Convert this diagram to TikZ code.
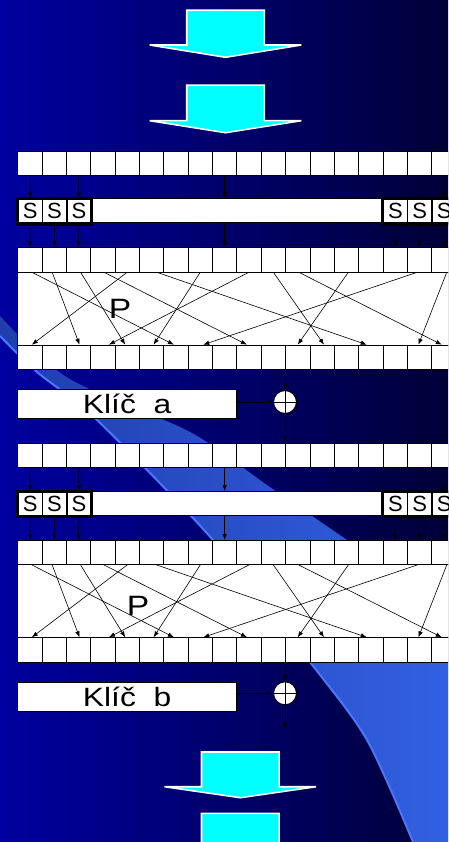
\documentclass[tikz,border=0pt]{standalone}
\usepackage{fontspec}
\usepackage{graphicx}
\setmainfont{Liberation Sans}
\usetikzlibrary{arrows.meta}

\definecolor{bgleft}{RGB}{0,0,160}
\definecolor{bgright}{RGB}{0,0,56}
\definecolor{bandleft}{RGB}{32,62,172}
\definecolor{bandright}{RGB}{50,96,226}
\definecolor{bandedge}{RGB}{70,120,255}
\definecolor{arrowfill}{RGB}{0,255,255}

\tikzset{
  cell/.style={draw=black, fill=white, line width=0.7pt, minimum width=24.35pt, minimum height=24.2pt, inner sep=0pt, anchor=north west},
  sbox/.style={cell, line width=1.5pt, font=\fontsize{22}{22}\selectfont},
  longbox/.style={draw=black, fill=white, line width=0.7pt, inner sep=0pt, anchor=north west},
  keybox/.style={longbox, minimum width=219pt, minimum height=29.6pt, font=\fontsize{26.5}{26.5}\selectfont},
  xorgate/.style={circle, draw=black, fill=white, line width=1pt, minimum size=23pt, inner sep=0pt,
    path picture={\draw[line width=0.8pt] (path picture bounding box.north) -- (path picture bounding box.south)
      (path picture bounding box.west) -- (path picture bounding box.east);}},
  wire/.style={-{Latex[length=6pt,width=4.5pt]}, line width=0.6pt},
  bigarrow/.style={draw=white, fill=arrowfill, line width=1.6pt},
  plabel/.style={font=\fontsize{28}{28}\selectfont, inner sep=0pt}
}

% wide lettering as on the slide
\newcommand{\wide}[1]{\scalebox{1.2}[1]{#1}}
% row of cells: name, top y
\newcommand{\cellrow}[2]{%
  \foreach \i in {0,...,18}
    \node[cell] (#1-\i) at ({17.3+24.35*\i},#2) {};
}
% S-box row: name, top y
\newcommand{\srow}[2]{%
  \node[longbox, minimum width=290pt, minimum height=24.2pt] (#1-m) at (91.3,#2) {};
  \foreach \i in {0,1,2} {
    \node[sbox] (#1-l\i) at ({17.3+24.35*\i},#2) {S};
    \node[sbox] (#1-r\i) at ({382.5+24.35*\i},#2) {S};
  }
  \draw[line width=3pt] (#1-l0.north west) rectangle (#1-l2.south east);
  \draw[line width=3pt] (#1-r0.north west) rectangle (#1-r2.south east);
}
% wires into and out of an S-box row: upper row, S row, lower row
\newcommand{\swires}[3]{%
  \draw[wire] (#1-0.south) -- (#2-l0.north);
  \draw[wire] (#1-2.south) -- (#2-l2.north);
  \draw[wire] (#1-8.south) -- (#1-8.south |- #2-m.north);
  \draw[wire] (#1-17.south) -- (#2-r2.north);
  \foreach \i in {0,1,2} {
    \draw[wire] (#2-l\i.south) -- (#3-\i.north);
    \pgfmathtruncatemacro{\j}{15+\i}
    \draw[wire] (#2-r\i.south) -- (#3-\j.north);
  }
  \draw[wire] (#2-m.south -| #3-8.north) -- (#3-8.north);
}
% permutation wires: upper row, lower row
\newcommand{\permwires}[2]{%
  \foreach \a/\sa/\b/\sb in {0/2/6/-2, 1/-2/2/1, 2/2/4/-2, 3/1/9/-2, 4/0/0/2, 5/5/14/-4, 7/0/5/2,
                             9/0/3/6, 10/0/12/2, 11/1/17/-2, 13/2/11/0, 16/-2/7/3, 17/3/16/-1}
    \draw[wire] ([xshift=\sa pt]#1-\a.south) -- ([xshift=\sb pt]#2-\b.north);
}
% broad arrow: centre x, top y, wing y, tip y
\newcommand{\bigdown}[4]{%
  \draw[bigarrow] ({#1-38.8},#2) -- ({#1+38.8},#2) -- ({#1+38.8},#3) -- ({#1+75.8},#3)
    -- (#1,#4) -- ({#1-75.8},#3) -- ({#1-38.8},#3) -- cycle;
}

\begin{document}
\begin{tikzpicture}[x=1pt, y=-1pt]
\useasboundingbox (0,0) rectangle (448,842);
\clip (0,0) rectangle (448,842);

% background
\shade[left color=bgleft, right color=bgright] (0,0) rectangle (448,842);
\shade[left color=bandleft, right color=bandright]
  plot[smooth] coordinates {(0,316) (68,378) (190,432) (267,485) (347,540) (448,610)}
  -- (448,842)
  -- plot[smooth] coordinates {(413,842) (367,740) (310,662) (213,540) (97,420) (37,372) (0,336)} -- cycle;
\draw[bandedge, line width=2pt] plot[smooth] coordinates {(413,842) (367,740) (310,662) (213,540) (97,420) (37,372) (0,336)};

% broad arrows
\bigdown{225.5}{10.3}{45}{57.3}
\bigdown{225.5}{85.3}{120.7}{132.7}
\bigdown{240.3}{752}{786.7}{797.7}
\bigdown{240.3}{813.3}{880}{895}

% first round
\node[longbox, minimum width=440pt, minimum height=73.2pt] (p1) at (17.3,271.5) {};
\node[plabel] (p1-lbl) at (120,309) {\wide{P}};
\cellrow{r1}{150.7}
\srow{s1}{198.3}
\cellrow{r2}{247.3}
\cellrow{r3}{344.7}
\swires{r1}{s1}{r2}
\permwires{r2}{r3}

\node[keybox] (ka) at (17.3,388.7) {\wide{Klíč\ \ a}};
\node[xorgate] (xa) at (285,402) {};
\draw[wire] (r3-11.south west) -- (xa.north);
\draw[wire] (xa -| ka.east) -- (xa.west);

% second round
\node[longbox, minimum width=440pt, minimum height=73.1pt] (p2) at (17.3,564.2) {};
\node[plabel] (p2-lbl) at (138,606) {\wide{P}};
\cellrow{r4}{442.7}
\srow{s2}{491}
\cellrow{r5}{540}
\cellrow{r6}{637.3}
\draw[wire] (xa.south) -- (r4-11.north west);
\swires{r4}{s2}{r5}
\permwires{r5}{r6}

\node[keybox, minimum height=29pt] (kb) at (17.3,681.7) {\wide{Klíč\ \ b}};
\node[xorgate] (xb) at (285,693.3) {};
\coordinate (out) at (285,729);
\draw[wire] (r6-11.south west) -- (xb.north);
\draw[wire] (xb -| kb.east) -- (xb.west);
\draw[wire] (xb.south) -- (out);
\end{tikzpicture}
\end{document}
